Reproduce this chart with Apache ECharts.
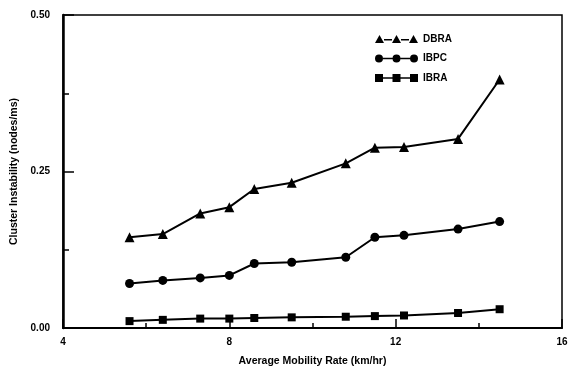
<!DOCTYPE html>
<html>
<head>
<meta charset="utf-8">
<script src="https://cdn.jsdelivr.net/npm/echarts@6/dist/echarts.min.js"></script>
<style>
  html, body { margin: 0; padding: 0; background: #fff; }
  #chart { width: 578px; height: 372px; }
</style>
</head>
<body>
<div id="chart"></div>
<script>
// Average mobility rate (km/hr) at each simulation point
const mobility = [5.6, 6.4, 7.3, 8.0, 8.6, 9.5, 10.8, 11.5, 12.2, 13.5, 14.5];
// Cluster instability (nodes/ms) for each scheme
const dbra = [0.145, 0.150, 0.183, 0.193, 0.222, 0.232, 0.263, 0.288, 0.289, 0.302, 0.397];
const ibpc = [0.071, 0.076, 0.080, 0.084, 0.103, 0.105, 0.113, 0.145, 0.148, 0.158, 0.170];
const ibra = [0.011, 0.013, 0.015, 0.015, 0.016, 0.017, 0.018, 0.019, 0.020, 0.024, 0.030];
const seriesNames = ['DBRA', 'IBPC', 'IBRA'];
const yTickLabels = { 0: '0.00', 0.25: '0.25', 0.5: '0.50' };

const font = '"Liberation Sans", Arial, sans-serif';

function pairs(ys) {
  return mobility.map((x, i) => [x, ys[i]]);
}

// legend icons: three markers joined by a short line
const iconTri = 'path://M0,8 L4.5,0 L9,8 Z M9,4 L17,4 L17,5.4 L9,5.4 Z M17,8 L21.5,0 L26,8 Z M26,4 L34,4 L34,5.4 L26,5.4 Z M34,8 L38.5,0 L43,8 Z';
const iconCirc = 'path://M0,4 A4,4 0 1,0 8,4 A4,4 0 1,0 0,4 Z M8,3.3 L17.5,3.3 L17.5,4.7 L8,4.7 Z M17.5,4 A4,4 0 1,0 25.5,4 A4,4 0 1,0 17.5,4 Z M25.5,3.3 L35,3.3 L35,4.7 L25.5,4.7 Z M35,4 A4,4 0 1,0 43,4 A4,4 0 1,0 35,4 Z';
const iconSq = 'path://M0,0 L8,0 L8,8 L0,8 Z M8,3.3 L17.5,3.3 L17.5,4.7 L8,4.7 Z M17.5,0 L25.5,0 L25.5,8 L17.5,8 Z M25.5,3.3 L35,3.3 L35,4.7 L25.5,4.7 Z M35,0 L43,0 L43,8 L35,8 Z';

const chart = echarts.init(document.getElementById('chart'), null, { renderer: 'canvas' });

const lineSeries = (name, ys, symbol, size) => ({
  name: name,
  type: 'line',
  data: pairs(ys),
  symbol: symbol,
  symbolSize: size,
  showAllSymbol: true,
  color: '#000',
  lineStyle: { color: '#000', width: 2 },
  itemStyle: { color: '#000', borderWidth: 0 },
  animation: false
});

chart.setOption({
  backgroundColor: '#fff',
  animation: false,
  grid: {
    left: 63, right: 16, top: 15, bottom: 39,
    show: true, borderColor: '#000', borderWidth: 1.5, backgroundColor: 'transparent'
  },
  legend: {
    orient: 'vertical',
    left: 370, top: 29,
    itemWidth: 43, itemHeight: 8, itemGap: 9.5,
    textStyle: { fontFamily: font, fontWeight: 'bold', fontSize: 10, color: '#000' },
    data: [
      { name: seriesNames[0], icon: iconTri },
      { name: seriesNames[1], icon: iconCirc },
      { name: seriesNames[2], icon: iconSq }
    ],
    selectedMode: false
  },
  xAxis: {
    type: 'value',
    min: 4, max: 16, interval: 4,
    name: 'Average Mobility Rate (km/hr)',
    nameLocation: 'middle',
    nameGap: 28,
    nameTextStyle: { fontFamily: font, fontWeight: 'bold', fontSize: 10.5, color: '#000' },
    axisLine: { show: true, lineStyle: { color: '#000', width: 2 } },
    axisTick: { show: true, inside: true, length: 9, lineStyle: { color: '#000', width: 1.5 } },
    minorTick: { show: true, splitNumber: 2, length: 5, lineStyle: { color: '#000', width: 1.5 } },
    axisLabel: { margin: 9, fontFamily: font, fontWeight: 'bold', fontSize: 10, color: '#000' },
    splitLine: { show: false }
  },
  yAxis: {
    type: 'value',
    min: 0, max: 0.5, interval: 0.25,
    name: 'Cluster Instability (nodes/ms)',
    nameLocation: 'middle',
    nameGap: 34,
    nameRotate: 90,
    nameTextStyle: { fontFamily: font, fontWeight: 'bold', fontSize: 10.5, color: '#000' },
    axisLine: { show: true, lineStyle: { color: '#000', width: 2.5 } },
    axisTick: { show: true, inside: true, length: 11, lineStyle: { color: '#000', width: 1.5 } },
    minorTick: { show: true, splitNumber: 2, length: 6, lineStyle: { color: '#000', width: 1.5 } },
    axisLabel: {
      margin: 13, fontFamily: font, fontWeight: 'bold', fontSize: 10, color: '#000',
      formatter: v => yTickLabels[v] !== undefined ? yTickLabels[v] : v.toFixed(2)
    },
    splitLine: { show: false }
  },
  series: [
    lineSeries(seriesNames[0], dbra, 'triangle', 10),
    lineSeries(seriesNames[1], ibpc, 'circle', 9),
    lineSeries(seriesNames[2], ibra, 'rect', 8)
  ]
});
</script>
</body>
</html>
